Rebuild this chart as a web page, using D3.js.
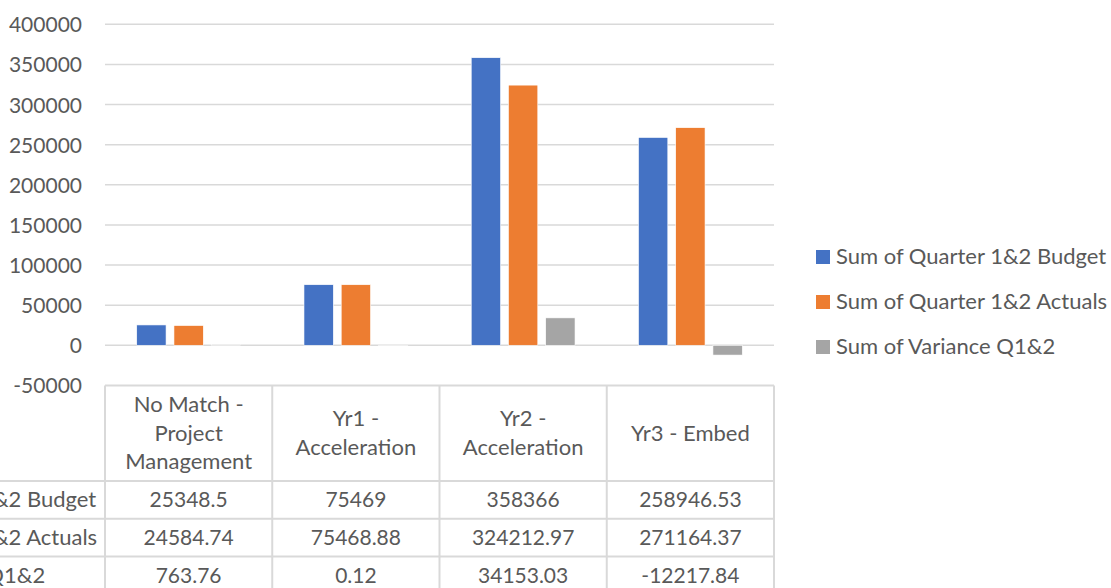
<!DOCTYPE html>
<html>
<head>
<meta charset="utf-8">
<script src="https://cdn.jsdelivr.net/npm/d3@7"></script>
<style>
  body { margin: 0; background: #fff; }
  svg text { font-family: Lato, "Open Sans", sans-serif; fill: #595959; }
</style>
</head>
<body>
<svg id="chart" width="1111" height="588"></svg>
<script>
// chart data
const categories = ["No Match - Project Management", "Yr1 - Acceleration", "Yr2 - Acceleration", "Yr3 - Embed"];
const categoryLines = [["No Match -", "Project", "Management"], ["Yr1 -", "Acceleration"], ["Yr2 -", "Acceleration"], ["Yr3 - Embed"]];
const seriesNames = ["Sum of Quarter 1&2 Budget", "Sum of Quarter 1&2 Actuals", "Sum of Variance Q1&2"];
const budget = [25348.5, 75469, 358366, 258946.53];
const actuals = [24584.74, 75468.88, 324212.97, 271164.37];
const variance = [763.76, 0.12, 34153.03, -12217.84];
const tableText = [
  ["25348.5", "75469", "358366", "258946.53"],
  ["24584.74", "75468.88", "324212.97", "271164.37"],
  ["763.76", "0.12", "34153.03", "-12217.84"]
];
const yTicks = [-50000, 0, 50000, 100000, 150000, 200000, 250000, 300000, 350000, 400000];
const colors = ["#4472C4", "#ED7D31", "#A5A5A5"];

const seriesValues = [budget, actuals, variance];
const svg = d3.select("#chart");
const numSize = 21;   // numbers
const textSize = 22;  // words
const gridColor = "#d9d9d9";

// plot area
const plotLeft = 105, plotRight = 774, plotTop = 24.3, plotBottom = 385.4;

const x = d3.scaleBand().domain(categories).range([plotLeft, plotRight]).padding(0);
const W = x.bandwidth();
const inner = d3.scaleBand().domain(seriesNames)
    .range([W / 2 - 51.9, W / 2 + 51.9])
    .paddingInner(0.212).paddingOuter(0);
const y = d3.scaleLinear().domain([-50000, 400000]).range([plotBottom, plotTop]);

// gridlines
svg.append("g").selectAll("line")
  .data(yTicks.filter(d => d !== -50000))
  .join("line")
    .attr("x1", plotLeft).attr("x2", plotRight)
    .attr("y1", d => y(d)).attr("y2", d => y(d))
    .attr("stroke", gridColor).attr("stroke-width", 1.5);

// y axis labels (no axis line, like excel)
svg.append("g").selectAll("text")
  .data(yTicks)
  .join("text")
    .attr("x", 82)
    .attr("y", d => y(d) + 8)
    .attr("text-anchor", "end")
    .attr("font-size", numSize)
    .text(d => d);

// bars
seriesNames.forEach((name, si) => {
  svg.append("g").selectAll("rect")
    .data(categories.map((c, ci) => ({ c: c, v: seriesValues[si][ci] })))
    .join("rect")
      .attr("x", d => x(d.c) + inner(name))
      .attr("width", inner.bandwidth())
      .attr("y", d => y(Math.max(0, d.v)))
      .attr("height", d => Math.abs(y(d.v) - y(0)))
      .attr("fill", colors[si])
      .attr("stroke", "#fff").attr("stroke-width", 0.6);
});

// data table
const tableTop = y(-50000), headerBottom = 481, rowH = 37.8;
const table = svg.append("g");
const rowLines = [headerBottom, headerBottom + rowH, headerBottom + 2 * rowH];

table.append("line")
  .attr("x1", plotLeft).attr("x2", plotRight).attr("y1", tableTop).attr("y2", tableTop)
  .attr("stroke", gridColor).attr("stroke-width", 2);
table.selectAll(".rowline").data(rowLines).join("line")
  .attr("class", "rowline")
  .attr("x1", 0).attr("x2", plotRight)
  .attr("y1", d => d).attr("y2", d => d)
  .attr("stroke", gridColor).attr("stroke-width", 2);
const colEdges = categories.map(c => x(c)).concat([plotRight]);
table.selectAll(".colline").data(colEdges).join("line")
  .attr("class", "colline")
  .attr("x1", d => d).attr("x2", d => d)
  .attr("y1", tableTop).attr("y2", 600)
  .attr("stroke", gridColor).attr("stroke-width", 2);

// header text
const headerMid = (tableTop + headerBottom) / 2;
const lineH = 28.5;
categories.forEach((c, ci) => {
  const lines = categoryLines[ci];
  lines.forEach((t, li) => {
    table.append("text")
      .attr("x", x(c) + W / 2)
      .attr("y", headerMid + 7.5 + (li - (lines.length - 1) / 2) * lineH)
      .attr("text-anchor", "middle")
      .attr("font-size", textSize)
      .text(t);
  });
});

// row labels (left aligned, starting left of the visible area) and values
seriesNames.forEach((name, si) => {
  const rowMid = headerBottom + rowH * si + rowH / 2;
  table.append("text")
    .attr("x", -174).attr("y", rowMid + 7.5)
    .attr("font-size", textSize)
    .text(name);
  categories.forEach((c, ci) => {
    table.append("text")
      .attr("x", x(c) + W / 2).attr("y", rowMid + 7.5)
      .attr("text-anchor", "middle")
      .attr("font-size", numSize)
      .text(tableText[si][ci]);
  });
});

// legend
const legend = svg.append("g");
seriesNames.forEach((name, si) => {
  const ly = 250 + si * 45;
  legend.append("rect")
    .attr("x", 816).attr("y", ly)
    .attr("width", 14).attr("height", 14)
    .attr("fill", colors[si]);
  legend.append("text")
    .attr("x", 836).attr("y", ly + 14)
    .attr("font-size", textSize)
    .text(name);
});
</script>
</body>
</html>
